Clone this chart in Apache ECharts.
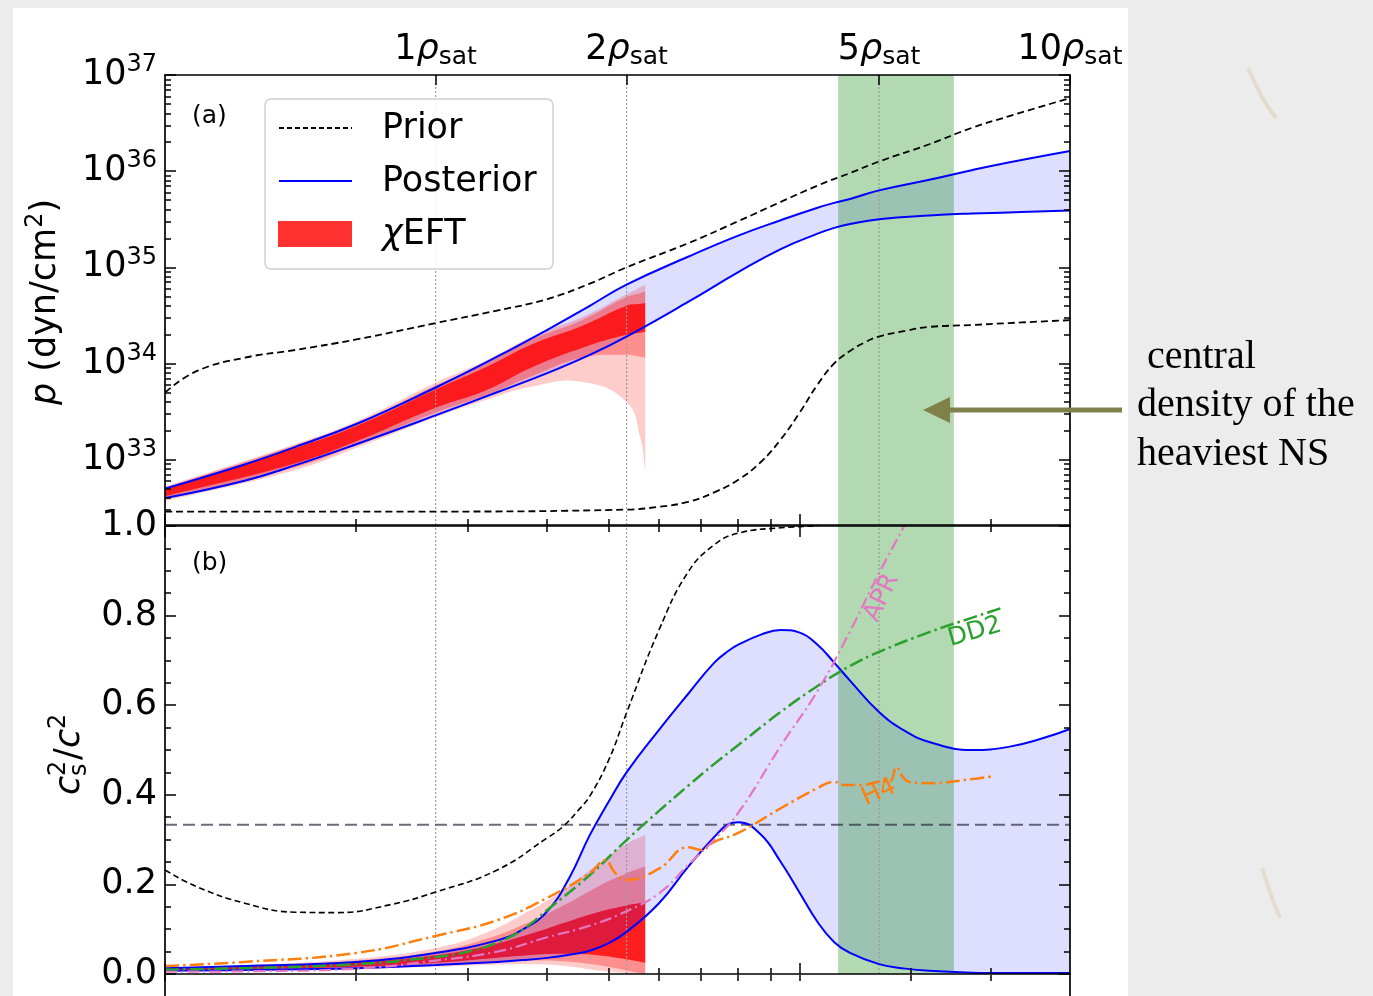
<!DOCTYPE html>
<html>
<head>
<meta charset="utf-8">
<title>Neutron-star EOS: pressure and sound speed</title>
<script src="https://cdn.jsdelivr.net/npm/echarts@6/dist/echarts.min.js"></script>
<style>
  html, body { margin: 0; padding: 0; background: #ececec; }
  #chart { width: 1373px; height: 996px; }
</style>
</head>
<body>
<div id="chart"></div>
<script>
// ---------------- data ----------------
// densities are in units of n_sat, pressures as log10(p / dyn cm^-2), sound speed as c_s^2/c^2

// top panel: prior envelope
const densPriorHi = [0.375, 0.42, 0.5, 0.6, 0.75, 1, 1.25, 1.5, 1.75, 2, 2.5, 3, 3.5, 4, 4.5, 5, 6, 7, 8, 10];
const priorPHi    = [33.70, 33.92, 34.06, 34.14, 34.25, 34.42, 34.55, 34.67, 34.83, 35.00, 35.25, 35.48, 35.68, 35.85, 35.98, 36.10, 36.28, 36.45, 36.57, 36.76];
const densPriorLo = [0.375, 1, 2, 2.25, 2.5, 2.75, 3, 3.25, 3.5, 3.75, 4, 4.25, 4.5, 4.75, 5, 5.5, 6, 7, 8, 10];
const priorPLo    = [32.46, 32.46, 32.48, 32.51, 32.56, 32.66, 32.79, 32.97, 33.21, 33.49, 33.78, 34.00, 34.13, 34.22, 34.28, 34.34, 34.38, 34.40, 34.42, 34.45];

// top panel: posterior envelope
const densPost = [0.375, 0.5, 0.6, 0.75, 1, 1.25, 1.5, 1.75, 2, 2.5, 3, 3.5, 4, 4.25, 4.5, 5, 6, 7, 8, 10];
const postPHi  = [32.70, 32.95, 33.13, 33.37, 33.75, 34.07, 34.35, 34.60, 34.82, 35.11, 35.33, 35.49, 35.62, 35.67, 35.71, 35.80, 35.91, 36.01, 36.09, 36.21];
const postPLo  = [32.60, 32.78, 32.94, 33.16, 33.46, 33.70, 33.90, 34.09, 34.28, 34.64, 34.95, 35.19, 35.35, 35.41, 35.45, 35.50, 35.54, 35.56, 35.57, 35.59];

// top panel: chiral EFT bands (outer / middle / inner)
const densEftP   = [0.375, 0.6, 0.75, 1.0, 1.2, 1.42, 1.7, 2.0, 2.1, 2.14];
const eftPOutHi  = [32.72, 33.16, 33.40, 33.80, 34.03, 34.28, 34.48, 34.72, 34.79, 34.82];
const eftPOutLo  = [32.57, 32.89, 33.12, 33.44, 33.62, 33.76, 33.81, 33.60, 33.24, 32.88];
const eftPMidHi  = [32.71, 33.15, 33.38, 33.77, 34.00, 34.25, 34.45, 34.69, 34.73, 34.75];
const eftPMidLo  = [32.59, 32.92, 33.15, 33.49, 33.67, 33.87, 34.06, 34.09, 34.07, 34.06];
const eftPInHi   = [32.69, 33.12, 33.35, 33.73, 33.96, 34.20, 34.39, 34.60, 34.62, 34.63];
const eftPInLo   = [32.62, 32.96, 33.19, 33.54, 33.72, 33.96, 34.16, 34.30, 34.32, 34.33];

// bottom panel: prior upper envelope
const densPriorCs = [0.375, 0.42, 0.5, 0.6, 0.7, 0.85, 1, 1.25, 1.5, 1.59, 1.68, 1.75, 1.875, 2, 2.25, 2.5, 2.75, 3, 3.5, 4];
const priorCsHi   = [0.232, 0.195, 0.158, 0.138, 0.137, 0.155, 0.183, 0.232, 0.304, 0.33, 0.366, 0.397, 0.478, 0.583, 0.768, 0.897, 0.958, 0.984, 0.996, 1.0];

// bottom panel: posterior envelope
const densCs = [0.375, 0.5, 0.75, 1, 1.25, 1.375, 1.5, 1.625, 1.75, 1.875, 2, 2.25, 2.5, 2.75, 2.9, 3, 3.25, 3.5, 3.75, 4, 4.25, 4.5, 5, 5.5, 6, 7, 8, 9, 10];
const postCsHi = [0.013, 0.018, 0.027, 0.047, 0.075, 0.10, 0.14, 0.215, 0.31, 0.385, 0.45, 0.545, 0.625, 0.695, 0.722, 0.735, 0.757, 0.768, 0.762, 0.735, 0.695, 0.655, 0.585, 0.542, 0.518, 0.500, 0.507, 0.525, 0.547];
const postCsLo = [0.007, 0.009, 0.013, 0.020, 0.027, 0.031, 0.036, 0.043, 0.052, 0.069, 0.094, 0.158, 0.239, 0.306, 0.335, 0.339, 0.3125, 0.25, 0.181, 0.116, 0.071, 0.047, 0.022, 0.012, 0.007, 0.003, 0.002, 0.002, 0.002];

// bottom panel: chiral EFT bands
const densEftCs  = [0.375, 0.5, 0.75, 1.0, 1.2, 1.4, 1.6, 1.8, 2.0, 2.14];
const eftCsOutHi = [0.014, 0.020, 0.034, 0.058, 0.092, 0.14, 0.19, 0.245, 0.29, 0.31];
const eftCsOutLo = [0.007, 0.008, 0.011, 0.016, 0.020, 0.022, 0.018, 0.008, 0.002, 0.0];
const eftCsMidHi = [0.013, 0.018, 0.030, 0.050, 0.078, 0.115, 0.155, 0.195, 0.225, 0.24];
const eftCsMidLo = [0.008, 0.010, 0.014, 0.021, 0.027, 0.030, 0.028, 0.020, 0.008, 0.0];
const eftCsInHi  = [0.012, 0.016, 0.026, 0.042, 0.062, 0.088, 0.115, 0.138, 0.153, 0.16];
const eftCsInLo  = [0.009, 0.011, 0.016, 0.025, 0.034, 0.042, 0.045, 0.042, 0.033, 0.025];

// bottom panel: nuclear EOS models
const densDD2 = [0.375, 0.5, 0.75, 1, 1.125, 1.25, 1.375, 1.5, 1.75, 2, 2.25, 2.5, 2.75, 3, 3.5, 4, 4.5, 5, 6, 7, 7.8];
const csDD2   = [0.010, 0.013, 0.022, 0.038, 0.05, 0.07, 0.10, 0.143, 0.221, 0.299, 0.364, 0.42, 0.469, 0.511, 0.585, 0.643, 0.6875, 0.719, 0.763, 0.795, 0.817];
const densH4  = [0.375, 0.5, 0.75, 1, 1.25, 1.5, 1.75, 1.85, 1.92, 2, 2.25, 2.5, 2.62, 2.75, 3, 3.5, 4, 4.25, 4.4, 4.7, 5, 5.2, 5.33, 5.45, 5.6, 6, 7, 7.6];
const csH4    = [0.018, 0.027, 0.047, 0.085, 0.12, 0.17, 0.225, 0.254, 0.225, 0.21, 0.235, 0.283, 0.277, 0.295, 0.315, 0.37, 0.415, 0.429, 0.422, 0.422, 0.429, 0.43, 0.462, 0.44, 0.428, 0.426, 0.435, 0.442];
const densAPR = [0.375, 0.5, 0.75, 1, 1.25, 1.5, 1.75, 2, 2.25, 2.5, 2.75, 3, 3.5, 4, 4.5, 5, 5.5, 5.6];
const csAPR   = [0.005, 0.006, 0.012, 0.03, 0.05, 0.082, 0.108, 0.14, 0.18, 0.243, 0.30, 0.36, 0.509, 0.632, 0.765, 0.895, 1.005, 1.03];

// inline model labels (anchor density, anchor c_s^2)
const eosLabelText = ['APR', 'DD2', 'H4'];
const eosLabelDens = [5.05, 7.08, 5.0];
const eosLabelCs   = [0.84, 0.763, 0.405];

// central density range of the heaviest neutron star (n_sat)
const heavyNsDens = [4.31, 6.56];

// reference lines
const rhoMarks = [1, 2, 5];        // dotted verticals
const conformalCs = 1 / 3;

// tick positions
const rhoTickLabels = [1, 2, 5, 10];                     // top axis, multiples of n_sat
const pDecades = [33, 34, 35, 36, 37];                   // log10 p labels
const massMajor = [1e14, 1e15];                          // g/cm^3
const massMinor = [2e14, 3e14, 4e14, 5e14, 6e14, 7e14, 8e14, 9e14, 2e15];
const massMinorLow = [2e14, 3e14, 4e14, 5e14, 6e14, 7e14, 8e14, 9e14, 1.5e15, 2e15];

// ---------------- scales ----------------
const lg = Math.log10;
const RHO_SAT_MASS = 2.67e14;                 // g/cm^3 at n_sat
const X_MIN = lg(1e14 / RHO_SAT_MASS);
const X_MAX = 1;
const P_MIN = 32.32, P_MAX = 37;
const FONT = 'DejaVu Sans';

const massU = m => lg(m / RHO_SAT_MASS);
const pMinor = [];
for (let d = 32; d < 37; d++) for (let k = 2; k <= 9; k++) {
  const v = d + lg(k);
  if (v > P_MIN && v < P_MAX) pMinor.push(v);
}
const csMinor = [];
for (let i = 1; i < 20; i++) if (i % 4 !== 0) csMinor.push(i * 0.05);

// ---------------- axes ----------------
const SPINE = { show: true, onZero: false, lineStyle: { color: '#000', width: 1.7 } };
function ax(gridIndex, min, max, position, extra) {
  return Object.assign({
    type: 'value', gridIndex, min, max, position, z: 10,
    axisLine: { show: false, onZero: false },
    axisTick: { show: false }, axisLabel: { show: false },
    splitLine: { show: false }, minorTick: { show: false }
  }, extra || {});
}
function ticks(values, len) {
  return { show: true, inside: true, length: len, customValues: values, lineStyle: { color: '#000', width: 1.5 } };
}

const G_TOP = { left: 165, top: 75, width: 905, height: 450 };
const G_BOT = { left: 165, top: 526, width: 905, height: 448 };

const xAxis = [
  // 0: top panel bottom (mass density, major)
  ax(0, X_MIN, X_MAX, 'bottom', { axisLine: SPINE, axisTick: ticks(massMajor.map(massU), 11) }),
  // 1: top panel top (n / n_sat)
  ax(0, X_MIN, X_MAX, 'top', {
    axisLine: SPINE, axisTick: ticks(rhoTickLabels.map(lg), 10),
    axisLabel: {
      show: true, customValues: rhoTickLabels.map(lg), margin: 5, showMinLabel: true, showMaxLabel: true,
      formatter: v => `{n|${Math.round(Math.pow(10, v))}}{r|ρ}{s|sat}`,
      rich: {
        n: { fontSize: 35, fontFamily: FONT, color: '#000', lineHeight: 40 },
        r: { fontSize: 35, fontFamily: FONT, fontStyle: 'italic', color: '#000', lineHeight: 40 },
        s: { fontSize: 25, fontFamily: FONT, color: '#000', lineHeight: 24, verticalAlign: 'bottom' }
      }
    }
  }),
  // 2: top panel bottom minor
  ax(1, X_MIN, X_MAX, 'bottom', { axisTick: ticks(massMinor.map(massU), 6) }),
  // 3: bottom panel bottom major
  ax(2, X_MIN, X_MAX, 'bottom', { axisLine: SPINE, axisTick: ticks(massMajor.map(massU), 11) }),
  // 4: bottom panel top major
  ax(2, X_MIN, X_MAX, 'top', { axisLine: SPINE, axisTick: ticks(massMajor.map(massU), 11) }),
  // 5: bottom panel bottom minor
  ax(3, X_MIN, X_MAX, 'bottom', { axisTick: ticks(massMinorLow.map(massU), 6) }),
  // 6: bottom panel top minor
  ax(3, X_MIN, X_MAX, 'top', { axisTick: ticks(massMinor.map(massU), 6) }),
  // 7: next panel top edge (ticks hanging below)
  ax(4, X_MIN, X_MAX, 'top', { axisTick: ticks(massMinorLow.concat(massMajor).map(massU), 6) })
];

const yAxis = [
  // 0: pressure, left
  ax(0, P_MIN, P_MAX, 'left', {
    axisLine: SPINE, axisTick: ticks(pDecades, 11),
    axisLabel: {
      show: true, customValues: pDecades, margin: 8, showMinLabel: true, showMaxLabel: true,
      formatter: v => `{b|10}{s|${Math.round(v)}}`,
      rich: {
        b: { fontSize: 35, fontFamily: FONT, color: '#000', lineHeight: 44 },
        s: { fontSize: 24, fontFamily: FONT, color: '#000', lineHeight: 24, verticalAlign: 'top' }
      }
    }
  }),
  // 1: pressure, right
  ax(0, P_MIN, P_MAX, 'right', { axisLine: SPINE, axisTick: ticks(pDecades, 11) }),
  // 2,3: pressure minor ticks
  ax(1, P_MIN, P_MAX, 'left', { axisTick: ticks(pMinor, 6) }),
  ax(1, P_MIN, P_MAX, 'right', { axisTick: ticks(pMinor, 6) }),
  // 4: sound speed, left
  ax(2, 0, 1, 'left', {
    interval: 0.2, axisLine: SPINE,
    axisTick: { show: true, inside: true, length: 11, lineStyle: { color: '#000', width: 1.5 } },
    axisLabel: { show: true, margin: 8, fontSize: 35, fontFamily: FONT, color: '#000', formatter: v => v.toFixed(1) }
  }),
  // 5: sound speed, right
  ax(2, 0, 1, 'right', {
    interval: 0.2, axisLine: SPINE,
    axisTick: { show: true, inside: true, length: 11, lineStyle: { color: '#000', width: 1.5 } }
  }),
  // 6,7: sound speed minor ticks
  ax(3, 0, 1, 'left', { axisTick: ticks(csMinor, 6) }),
  ax(3, 0, 1, 'right', { axisTick: ticks(csMinor, 6) }),
  // 8,9: next panel spines
  ax(4, 0, 1, 'left', { axisLine: SPINE }),
  ax(4, 0, 1, 'right', { axisLine: SPINE })
];

// ---------------- series helpers ----------------
const pts = (dens, vals) => dens.map((d, i) => [lg(d), vals[i]]);
const SMOOTH = 0.45;
const BLUE_FILL = 'rgba(0,0,255,0.13)';
const base = { symbol: 'none', silent: true, animation: false, emphasis: { disabled: true }, smooth: SMOOTH };

// bezier control point in the same spirit as the line series smoothing
function ctrlPt(prev, cur, next, dir) {
  const vx = next[0] - prev[0], vy = next[1] - prev[1];
  const d0 = Math.hypot(cur[0] - prev[0], cur[1] - prev[1]);
  const d1 = Math.hypot(next[0] - cur[0], next[1] - cur[1]);
  const tot = (d0 + d1) || 1;
  const r = dir > 0 ? d1 / tot : d0 / tot;
  return [cur[0] + dir * vx * SMOOTH * r, cur[1] + dir * vy * SMOOTH * r];
}
function smoothSegs(P) {
  let d = '';
  const n = P.length;
  for (let i = 0; i < n - 1; i++) {
    const c1 = ctrlPt(P[Math.max(i - 1, 0)], P[i], P[i + 1], 1);
    const c2 = ctrlPt(P[i], P[i + 1], P[Math.min(i + 2, n - 1)], -1);
    d += ` C ${c1[0]} ${c1[1]} ${c2[0]} ${c2[1]} ${P[i + 1][0]} ${P[i + 1][1]}`;
  }
  return d;
}
// filled band between two curves, drawn through the grid's coordinate system
function band(name, dens, lo, hi, color, xi, yi, z) {
  return {
    type: 'custom', name, xAxisIndex: xi, yAxisIndex: yi, z, silent: true, animation: false, clip: true,
    data: [[lg(dens[0]), lo[0]]],
    renderItem: (params, api) => {
      const up = dens.map((d, i) => api.coord([lg(d), hi[i]]));
      const dn = dens.map((d, i) => api.coord([lg(d), lo[i]])).reverse();
      const path = `M ${up[0][0]} ${up[0][1]}` + smoothSegs(up) +
                   ` L ${dn[0][0]} ${dn[0][1]}` + smoothSegs(dn) + ' Z';
      return { type: 'path', shape: { pathData: path }, style: { fill: color, stroke: null } };
    }
  };
}
function curve(name, dens, vals, xi, yi, z, lineStyle) {
  return Object.assign({}, base, {
    type: 'line', name, xAxisIndex: xi, yAxisIndex: yi, z, data: pts(dens, vals), lineStyle
  });
}
function vline(r, xi, yi, lo, hi) {
  return Object.assign({}, base, {
    type: 'line', smooth: false, xAxisIndex: xi, yAxisIndex: yi, z: 3,
    data: [[lg(r), lo], [lg(r), hi]],
    lineStyle: { color: '#9a9a9a', width: 1.2, type: [2, 2] }
  });
}
function heavyBand(xi, yi) {
  return {
    type: 'custom', xAxisIndex: xi, yAxisIndex: yi, z: 3, silent: true, animation: false,
    data: [[lg(heavyNsDens[0]), lg(heavyNsDens[1])]],
    renderItem: (params, api) => {
      const a = api.coord([api.value(0), 0]);
      const b = api.coord([api.value(1), 0]);
      const cs = params.coordSys;
      return { type: 'rect', shape: { x: a[0], y: cs.y, width: b[0] - a[0], height: cs.height },
               style: { fill: 'rgba(0,128,0,0.3)' } };
    }
  };
}

const PRIOR_TOP = { color: '#000', width: 1.8, type: [7, 4] };
const PRIOR_BOT = { color: '#000', width: 1.6, type: [6, 3.5] };
const POST = { color: '#0000ff', width: 2 };
const EOS_COLORS = { APR: '#e377c2', DD2: '#2ca02c', H4: '#ff7f0e' };
const EOS_ANGLE = { APR: 64, DD2: 16, H4: 24 };

const series = [
  // ----- top panel: pressure -----
  band('posterior p', densPost, postPLo, postPHi, BLUE_FILL, 0, 0, 1),
  band('chiEFT p outer', densEftP, eftPOutLo, eftPOutHi, 'rgba(255,0,0,0.2)', 0, 0, 2),
  band('chiEFT p middle', densEftP, eftPMidLo, eftPMidHi, 'rgba(255,0,0,0.3)', 0, 0, 2),
  band('chiEFT p inner', densEftP, eftPInLo, eftPInHi, 'rgba(255,0,0,0.78)', 0, 0, 2),
  heavyBand(0, 0),
  ...rhoMarks.map(r => vline(r, 0, 0, P_MIN, P_MAX)),
  curve('posterior p upper', densPost, postPHi, 0, 0, 4, POST),
  curve('posterior p lower', densPost, postPLo, 0, 0, 4, POST),
  curve('prior p upper', densPriorHi, priorPHi, 0, 0, 4, PRIOR_TOP),
  curve('prior p lower', densPriorLo, priorPLo, 0, 0, 4, PRIOR_TOP),

  // ----- bottom panel: sound speed -----
  band('chiEFT cs outer', densEftCs, eftCsOutLo, eftCsOutHi, 'rgba(255,0,0,0.2)', 3, 4, 1),
  band('chiEFT cs middle', densEftCs, eftCsMidLo, eftCsMidHi, 'rgba(255,0,0,0.3)', 3, 4, 1),
  band('chiEFT cs inner', densEftCs, eftCsInLo, eftCsInHi, 'rgba(255,0,0,0.78)', 3, 4, 1),
  band('posterior cs', densCs, postCsLo, postCsHi, BLUE_FILL, 3, 4, 2),
  heavyBand(3, 4),
  ...rhoMarks.map(r => vline(r, 3, 4, 0, 1)),
  Object.assign({}, base, {
    type: 'line', smooth: false, name: 'conformal limit', xAxisIndex: 3, yAxisIndex: 4, z: 4,
    data: [[X_MIN, conformalCs], [X_MAX, conformalCs]],
    lineStyle: { color: 'rgba(45,45,65,0.7)', width: 2, type: [12, 6] }
  }),
  curve('posterior cs upper', densCs, postCsHi, 3, 4, 4, POST),
  curve('posterior cs lower', densCs, postCsLo, 3, 4, 4, POST),
  curve('prior cs upper', densPriorCs, priorCsHi, 3, 4, 4, PRIOR_BOT),
  curve('DD2', densDD2, csDD2, 3, 4, 5, { color: EOS_COLORS.DD2, width: 2.5, type: [14, 4, 2.5, 4] }),
  curve('H4', densH4, csH4, 3, 4, 5, { color: EOS_COLORS.H4, width: 2.5, type: [14, 4, 2.5, 4] }),
  curve('APR', densAPR, csAPR, 3, 4, 5, { color: EOS_COLORS.APR, width: 2.2, type: [12, 4, 2, 4] }),
  {
    type: 'custom', xAxisIndex: 3, yAxisIndex: 4, z: 6, silent: true, animation: false,
    data: eosLabelText.map((t, i) => [lg(eosLabelDens[i]), eosLabelCs[i], i]),
    renderItem: (params, api) => {
      const i = api.value(2);
      const name = eosLabelText[i];
      const p = api.coord([api.value(0), api.value(1)]);
      return {
        type: 'text', x: p[0], y: p[1], rotation: EOS_ANGLE[name] * Math.PI / 180,
        style: { text: name, fill: EOS_COLORS[name], font: `25px "${FONT}"`,
                 align: 'center', verticalAlign: 'middle', textAlign: 'center', textVerticalAlign: 'middle' }
      };
    }
  }
];

// ---------------- decorations ----------------
function txt(x, y, text, font) {
  return {
    type: 'text', x, y, z: 100,
    style: { text, font, fill: '#000', align: 'left', verticalAlign: 'middle', textAlign: 'left', textVerticalAlign: 'middle' }
  };
}

const graphic = [
  // figure canvas
  { type: 'rect', z: -10, shape: { x: 13, y: 8, width: 1115, height: 1000 }, style: { fill: '#ffffff' } },
  // faint paper fibres in the margin
  { type: 'bezierCurve', z: -9, shape: { x1: 1248, y1: 68, x2: 1276, y2: 118, cpx1: 1258, cpy1: 90, cpx2: 1262, cpy2: 100 },
    style: { stroke: 'rgba(205,175,120,0.28)', lineWidth: 4, fill: null } },
  { type: 'bezierCurve', z: -9, shape: { x1: 1262, y1: 868, x2: 1280, y2: 918, cpx1: 1268, cpy1: 885, cpx2: 1272, cpy2: 900 },
    style: { stroke: 'rgba(205,175,120,0.25)', lineWidth: 4, fill: null } },

  // legend
  { type: 'rect', z: 90, shape: { x: 265, y: 99, width: 288, height: 170, r: 6 },
    style: { fill: 'rgba(255,255,255,0.85)', stroke: '#cfcfcf', lineWidth: 1.5 } },
  { type: 'line', z: 91, shape: { x1: 279, y1: 128, x2: 352, y2: 128 }, style: { stroke: '#000', lineWidth: 1.8, lineDash: [5, 3] } },
  { type: 'line', z: 91, shape: { x1: 279, y1: 181, x2: 352, y2: 181 }, style: { stroke: '#0000ff', lineWidth: 2 } },
  { type: 'rect', z: 91, shape: { x: 278, y: 221, width: 74, height: 26 }, style: { fill: '#ff3030' } },
  txt(382, 129, 'Prior', `35px "${FONT}"`),
  txt(382, 182, 'Posterior', `35px "${FONT}"`),
  {
    type: 'text', x: 382, y: 235, z: 100,
    style: { text: '{g|χ}EFT', font: `35px "${FONT}"`, fill: '#000', verticalAlign: 'middle', textVerticalAlign: 'middle',
             rich: { g: { fontStyle: 'italic', fontSize: 35, fontFamily: FONT, fill: '#000' } } }
  },

  // panel tags
  txt(192, 116, '(a)', `25px "${FONT}"`),
  txt(192, 563, '(b)', `25px "${FONT}"`),

  // y-axis titles
  {
    type: 'text', x: 46, y: 302, z: 100, rotation: Math.PI / 2,
    style: {
      text: '{i|p} (dyn/cm{s|2})', font: `35px "${FONT}"`, fill: '#000', lineHeight: 44,
      align: 'center', verticalAlign: 'middle', textAlign: 'center', textVerticalAlign: 'middle',
      rich: {
        i: { fontStyle: 'italic', fontSize: 35, fontFamily: FONT, lineHeight: 44 },
        s: { fontSize: 24, fontFamily: FONT, lineHeight: 24, verticalAlign: 'top' }
      }
    }
  },
  {
    type: 'group', x: 70, y: 755, rotation: Math.PI / 2, z: 100,
    children: [
      { type: 'text', x: -40, y: 0, style: { text: 'c', font: `italic 35px "${FONT}"`, fill: '#000', verticalAlign: 'middle', textVerticalAlign: 'middle' } },
      { type: 'text', x: -21, y: -11, style: { text: '2', font: `24px "${FONT}"`, fill: '#000', verticalAlign: 'middle', textVerticalAlign: 'middle' } },
      { type: 'text', x: -21, y: 10, style: { text: 's', font: `24px "${FONT}"`, fill: '#000', verticalAlign: 'middle', textVerticalAlign: 'middle' } },
      { type: 'text', x: -5, y: 0, style: { text: '/', font: `35px "${FONT}"`, fill: '#000', verticalAlign: 'middle', textVerticalAlign: 'middle' } },
      { type: 'text', x: 7, y: 0, style: { text: 'c', font: `italic 35px "${FONT}"`, fill: '#000', verticalAlign: 'middle', textVerticalAlign: 'middle' } },
      { type: 'text', x: 26, y: -11, style: { text: '2', font: `24px "${FONT}"`, fill: '#000', verticalAlign: 'middle', textVerticalAlign: 'middle' } }
    ]
  },

  // annotation arrow + note
  { type: 'line', z: 95, shape: { x1: 1122, y1: 410, x2: 945, y2: 410 }, style: { stroke: '#80804a', lineWidth: 5 } },
  { type: 'polygon', z: 95, shape: { points: [[923, 410], [950, 397], [950, 423]] }, style: { fill: '#80804a' } },
  txt(1147, 357, 'central', '40px "Liberation Serif"'),
  txt(1137, 405, 'density of the', '40px "Liberation Serif"'),
  txt(1137, 454, 'heaviest NS', '40px "Liberation Serif"')
];

const option = {
  backgroundColor: '#ececec',
  animation: false,
  textStyle: { fontFamily: FONT },
  grid: [
    Object.assign({}, G_TOP), Object.assign({}, G_TOP),
    Object.assign({}, G_BOT), Object.assign({}, G_BOT),
    { left: 165, top: 975, width: 905, height: 300 }
  ],
  xAxis, yAxis, series, graphic
};

const chart = echarts.init(document.getElementById('chart'), null, { renderer: 'canvas' });
chart.setOption(option);
</script>
</body>
</html>
